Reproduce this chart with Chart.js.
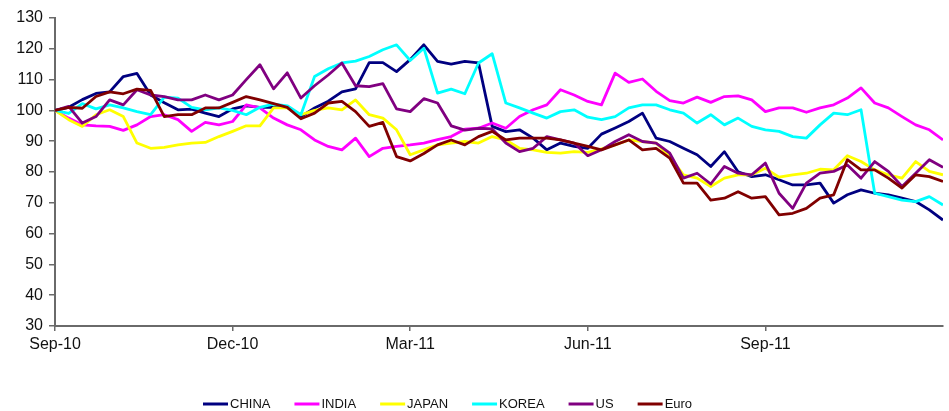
<!DOCTYPE html>
<html>
<head>
<meta charset="utf-8">
<script src="https://cdn.jsdelivr.net/npm/chart.js@4.4.1/dist/chart.umd.min.js"></script>
<style>
  html, body { margin: 0; padding: 0; background: #ffffff; }
  #wrap { width: 949px; height: 411px; position: relative; }
</style>
</head>
<body>
<div id="wrap"><canvas id="c" width="949" height="411"></canvas></div>
<script>
// Weekly index levels (start = 100), Sep-2010 to Dec-2011
const tickWeeks  = [0, 13, 26, 39, 52];
const tickLabels = ['Sep-10', 'Dec-10', 'Mar-11', 'Jun-11', 'Sep-11'];

const seriesNames  = ['CHINA', 'INDIA', 'JAPAN', 'KOREA', 'US', 'Euro'];
const seriesColors = ['#000080', '#FF00FF', '#FFFF00', '#00FFFF', '#800080', '#800000'];

const china = [100,101,103.5,105.5,106,111,112,105,102.5,100.2,
  100.4,99.1,98,100.5,101.5,101,101,101,98,100.8,
  103,106,107,115.5,115.5,112.6,116.5,121.3,115.9,115,
  115.9,115.4,94.8,93.1,93.7,91,87.2,89.4,88.3,87.7,
  92.3,94.3,96.4,99.1,91,89.9,87.7,85.6,81.8,86.6,
  80.1,78.5,79.1,77.5,75.8,75.8,76.4,69.9,72.6,74.2,
  73.1,72.6,71.5,70.4,67.7,64.4];

const india = [100,97.5,95.3,95,94.8,93.5,95.3,98,98.6,97,
  93.2,96.1,95.3,96.4,101.8,100.8,97.5,95.3,93.7,90.4,
  88.3,87.2,91,85,87.7,88.3,88.8,89.4,90.5,91.5,
  93.9,94.2,95.9,94.2,98,100.2,101.8,106.7,105,102.9,
  101.8,112.1,109.1,110.2,106.2,103.2,102.4,104.3,102.6,104.5,
  104.7,103.4,99.6,100.8,100.8,99.4,100.8,101.8,104,107.3,
  102.4,100.8,98,95.3,93.7,90.4];

const japan = [100,97,94.8,98.6,100.2,98,89.4,87.7,88,88.8,
  89.4,89.6,91.5,93.2,95,95,100.8,100.8,98.6,100,
  100.8,100.2,103.4,98.6,97.5,93.7,85.6,87.2,88.8,89.4,
  89.9,89.4,91.5,90.4,87.7,87.2,86.4,86.1,86.6,86.4,
  87.5,88.8,90.4,89.9,89.4,85,79.1,78,75.3,78,
  79.1,79.1,81.2,78.3,79.1,79.6,80.9,80.7,85.3,83.4,
  80.7,79.1,78,83.4,80.2,79.1];

const korea = [100,99,102.2,100.5,101.8,100.8,99.6,98.6,104.3,104,
  101,100.2,100.8,100,98.6,101,102,101.5,98.6,111,
  113.5,115.4,116,117.5,119.7,121.3,116.2,120.2,105.6,106.9,
  105.4,115.4,118.4,102.4,100.8,99.1,97.5,99.6,100.2,97.8,
  97,98,100.8,101.8,101.8,100.2,99.1,95.9,98.6,95.3,
  97.5,94.8,93.7,93.2,91.5,91,95.3,99.1,98.6,100.2,
  73.1,72,70.9,70.4,72,69.3];

const us = [100,101.3,95.9,98,103.4,101.8,106.7,105,104.5,103.4,
  103.4,105,103.4,105,110,114.8,107,112.2,104,108,
  111.5,115.4,108,107.7,108.7,100.5,99.6,103.8,102.4,95,
  93.6,94.2,94,89.4,86.6,87.7,91.5,90.4,89.4,85.3,
  87.2,89.9,92.1,89.9,89.4,86.1,78,79.6,76.1,81.8,
  79.6,79.1,82.9,73.1,68.2,76.4,79.6,80.2,82.3,78,
  83.4,80.2,75.3,79.6,84,81.5];

const euro = [100,101,100.7,104.5,106,105.4,106.9,106.5,98,98.6,
  98.6,100.8,100.8,102.6,104.5,103.4,102.2,101,97.3,99.1,
  102.4,102.9,99.6,94.8,96.1,85,83.6,86,88.8,90.4,
  88.8,91.5,93.2,90.4,91,91,91,90.4,89.4,88.3,
  87.2,88.8,90.4,87.2,87.7,84.5,76.4,76.4,70.9,71.5,
  73.6,71.5,72,66.1,66.6,68.2,71.5,72.6,84,80.7,
  80.7,78,74.8,79.1,78.5,76.9];

const seriesValues = [china, india, japan, korea, us, euro];

const axisColor = '#6a6a6a';
const textColor = '#111111';
const fontFamily = '"Liberation Sans", Arial, sans-serif';

const datasets = seriesNames.map((name, k) => ({
  label: name,
  data: seriesValues[k].map((v, i) => ({ x: i, y: v })),
  borderColor: seriesColors[k],
  backgroundColor: seriesColors[k],
  borderWidth: 2.8,
  pointRadius: 0,
  tension: 0,
  fill: false,
  borderJoinStyle: 'round',
  // later series are painted over earlier ones
  order: seriesNames.length - k
}));

// Legend row underneath the axis: short line sample followed by the name
const bottomLegend = {
  id: 'bottomLegend',
  afterDraw(chart) {
    const ctx = chart.ctx;
    ctx.save();
    ctx.font = '13px ' + fontFamily;
    ctx.textBaseline = 'middle';
    ctx.textAlign = 'left';
    const lineLen = 25, gapText = 2, gapItem = 24, y = 404;
    let x = 203;
    chart.data.datasets.forEach(ds => {
      ctx.strokeStyle = ds.borderColor;
      ctx.lineWidth = 3;
      ctx.beginPath();
      ctx.moveTo(x, y);
      ctx.lineTo(x + lineLen, y);
      ctx.stroke();
      ctx.fillStyle = textColor;
      ctx.fillText(ds.label, x + lineLen + gapText, y + 0.5);
      x += lineLen + gapText + ctx.measureText(ds.label).width + gapItem;
    });
    ctx.restore();
  }
};

new Chart(document.getElementById('c'), {
  type: 'line',
  data: { datasets },
  options: {
    responsive: false,
    animation: false,
    events: [],
    layout: { padding: { top: 18, right: 6, left: 0, bottom: 0 } },
    plugins: { legend: { display: false }, tooltip: { enabled: false } },
    scales: {
      x: {
        type: 'linear',
        min: 0,
        max: china.length - 1,
        afterBuildTicks: s => { s.ticks = tickWeeks.map(v => ({ value: v })); },
        afterFit: s => { s.height = 85; },
        ticks: {
          autoSkip: false,
          maxRotation: 0,
          padding: 4,
          color: textColor,
          font: { family: fontFamily, size: 16 },
          callback: v => { const i = tickWeeks.indexOf(v); return i >= 0 ? tickLabels[i] : ''; }
        },
        grid: { display: true, drawOnChartArea: false, drawTicks: true, tickLength: 5, color: axisColor, lineWidth: 1.5 },
        border: { display: true, color: axisColor, width: 2 }
      },
      y: {
        min: 30,
        max: 130,
        afterFit: s => { s.width = 55; },
        ticks: {
          stepSize: 10,
          padding: 6,
          color: textColor,
          font: { family: fontFamily, size: 16 }
        },
        grid: { display: true, drawOnChartArea: false, drawTicks: true, tickLength: 6, color: axisColor, lineWidth: 1.5 },
        border: { display: true, color: axisColor, width: 2 }
      }
    }
  },
  plugins: [bottomLegend]
});
</script>
</body>
</html>
